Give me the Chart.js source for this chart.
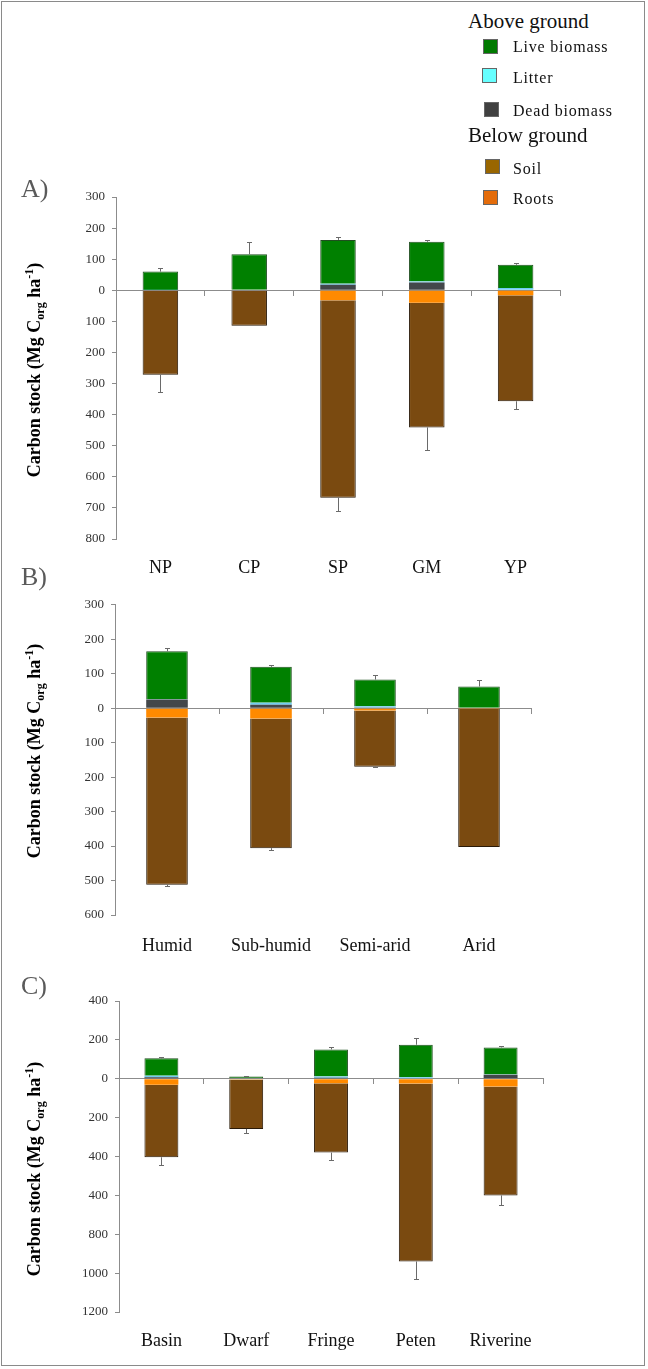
<!DOCTYPE html>
<html>
<head>
<meta charset="utf-8">
<script src="https://cdn.jsdelivr.net/npm/chart.js@4.4.1/dist/chart.umd.min.js"></script>
<style>
  body { margin: 0; background: #fff; }
  #fig { position: relative; width: 648px; height: 1369px; font-family: 'Liberation Serif', 'Times New Roman', serif; }
  #frame { position: absolute; left: 1px; top: 1px; width: 642px; height: 1363px; border: 1px solid #8a8a8a; }
  canvas { position: absolute; left: 0; }
  .plab { position: absolute; left: 21px; font-size: 26px; line-height: 26px; color: #5a5a5a; }
  .ytitle { position: absolute; font-weight: bold; font-size: 18px; white-space: nowrap; color: #000;
            transform: translate(-50%, -50%) rotate(-90deg); }
  .ytitle sub, .ytitle sup { font-size: 12px; }
  .hd { position: absolute; left: 468px; font-size: 21px; line-height: 21px; color: #111; }
  .lg { position: absolute; left: 513px; font-size: 16px; line-height: 16px; letter-spacing: 0.8px; color: #111; }
  .box { position: absolute; width: 13px; height: 13px; border: 1px solid #666; }
</style>
</head>
<body>
<div id="fig">
  <div id="frame"></div>

  <canvas id="chartA" width="648" height="410" style="top:180px"></canvas>
  <canvas id="chartB" width="648" height="380" style="top:590px"></canvas>
  <canvas id="chartC" width="648" height="380" style="top:985px"></canvas>

  <div class="hd" style="top:11px">Above ground</div>
  <div class="box" style="left:483px;top:39px;background:#007a00"></div>
  <div class="lg" style="top:39px">Live biomass</div>
  <div class="box" style="left:482px;top:68px;background:#66ffff"></div>
  <div class="lg" style="top:70px">Litter</div>
  <div class="box" style="left:484px;top:102px;background:#404040"></div>
  <div class="lg" style="top:103px">Dead biomass</div>
  <div class="hd" style="top:125px">Below ground</div>
  <div class="box" style="left:485px;top:159px;background:#996600"></div>
  <div class="lg" style="top:161px">Soil</div>
  <div class="box" style="left:483px;top:190px;background:#e46c0a"></div>
  <div class="lg" style="top:191px">Roots</div>

  <div class="plab" style="top:176px">A)</div>
  <div class="plab" style="top:564px">B)</div>
  <div class="plab" style="top:973px">C)</div>

  <div class="ytitle" style="left:35px;top:370px">Carbon stock (Mg C<sub>org</sub> ha<sup>-1</sup>)</div>
  <div class="ytitle" style="left:35px;top:751px">Carbon stock (Mg C<sub>org</sub> ha<sup>-1</sup>)</div>
  <div class="ytitle" style="left:35px;top:1169px">Carbon stock (Mg C<sub>org</sub> ha<sup>-1</sup>)</div>
</div>

<script>
  // A) by region
  const catsA = ['NP', 'CP', 'SP', 'GM', 'YP'];
  const deadA = [0, 0, 18, 25, 2];
  const litterA = [1, 0, 3, 3, 5];
  const liveA = [59, 116, 141, 128, 75];
  const rootsA = [0, 0, 32, 40, 16];
  const soilA = [272, 114, 635, 401, 341];
  const errUpA = [11, 40, 8, 6, 6];
  const errDownA = [54, 0, 44, 72, 25];
  const ticksA = ['300', '200', '100', '0', '100', '200', '300', '400', '500', '600', '700', '800'];

  // B) by climate
  const catsB = ['Humid', 'Sub-humid', 'Semi-arid', 'Arid'];
  const deadB = [25, 10, 2, 0];
  const litterB = [1, 6, 4, 1];
  const liveB = [139, 104, 77, 62];
  const rootsB = [27, 30, 7, 1];
  const soilB = [485, 376, 163, 402];
  const errUpB = [9, 4, 12, 19];
  const errDownB = [4, 4, 2, 0];
  const ticksB = ['300', '200', '100', '0', '100', '200', '300', '400', '500', '600'];

  // C) by ecotype
  const catsC = ['Basin', 'Dwarf', 'Fringe', 'Peten', 'Riverine'];
  const deadC = [8, 0, 5, 3, 20];
  const litterC = [8, 2, 7, 5, 2];
  const liveC = [89, 10, 139, 167, 139];
  const rootsC = [31, 4, 23, 24, 40];
  const soilC = [373, 254, 357, 916, 560];
  const errUpC = [8, 3, 10, 33, 9];
  const errDownC = [39, 20, 38, 91, 50];
  const ticksC = ['400', '200', '0', '200', '400', '400', '800', '1000', '1200'];

  const serif = "'Liberation Serif', 'Times New Roman', serif";
  const axisGray = '#8c8c8c';

  // whiskers on top of the above-ground stack and below the soil
  const errorBars = {
    id: 'errorBars',
    afterDatasetsDraw(chart, args, opts) {
      const ctx = chart.ctx;
      const xs = chart.scales.x, ys = chart.scales.y;
      ctx.save();
      ctx.strokeStyle = '#6a6a6a';
      ctx.lineWidth = 1;
      chart.data.labels.forEach((c, i) => {
        let pos = 0, neg = 0;
        chart.data.datasets.forEach(d => {
          const v = d.data[i];
          if (v > 0) pos += v; else neg += v;
        });
        const px = Math.round(xs.getPixelForValue(i)) + 0.5;
        [[pos, pos + opts.up[i]], [neg, neg - opts.down[i]]].forEach(([a, b]) => {
          if (a === b) return;
          const y1 = ys.getPixelForValue(a);
          const y2 = Math.round(ys.getPixelForValue(b)) + 0.5;
          ctx.beginPath();
          ctx.moveTo(px, y1);
          ctx.lineTo(px, y2);
          ctx.moveTo(px - 2.5, y2);
          ctx.lineTo(px + 2.5, y2);
          ctx.stroke();
        });
      });
      ctx.restore();
    }
  };

  function makePanel(id, cats, dead, litter, live, roots, soil, up, down, yMin, yMax, step, tickLabels, area) {
    const canvas = document.getElementById(id);
    const bar = (label, data, color, border, bw) => ({
      label: label, data: data, backgroundColor: color, borderColor: border, borderWidth: bw,
      barPercentage: 0.4, categoryPercentage: 1.0
    });
    return new Chart(canvas, {
      type: 'bar',
      data: {
        labels: cats,
        datasets: [
          bar('Dead biomass', dead, '#43474a', '#43474a', 0),
          bar('Litter', litter, '#70cdf0', '#70cdf0', 0),
          bar('Live biomass', live, '#008000', '#1f4f1f', 1),
          bar('Roots', roots.map(v => -v), '#ff8a00', '#ff8a00', 0),
          bar('Soil', soil.map(v => -v), '#7a4a10', '#2a1a08', 1)
        ]
      },
      options: {
        responsive: false,
        animation: false,
        devicePixelRatio: 1,
        layout: { padding: { left: 0, right: canvas.width - area.right, top: area.top, bottom: 0 } },
        plugins: {
          legend: { display: false },
          tooltip: { enabled: false },
          errorBars: { up: up, down: down }
        },
        scales: {
          x: {
            stacked: true,
            grid: { display: false, drawTicks: false },
            border: { display: false },
            ticks: { color: '#111', font: { family: serif, size: 18 }, padding: area.labelPad },
            afterFit: s => { s.height = canvas.height - area.bottom; }
          },
          x2: {
            type: 'category',
            position: { y: 0 },
            offset: true,
            grid: { offset: true, drawOnChartArea: false, tickLength: 5, color: axisGray },
            border: { color: axisGray },
            ticks: { display: false }
          },
          y: {
            stacked: true,
            min: yMin,
            max: yMax,
            ticks: {
              stepSize: step, color: '#333', padding: 7,
              font: { family: serif, size: 13 },
              callback: (v, i, t) => tickLabels[t.length - 1 - i]
            },
            grid: { drawOnChartArea: false, tickLength: 4, color: axisGray },
            border: { color: axisGray },
            afterFit: s => { s.width = area.left; }
          }
        }
      },
      plugins: [errorBars]
    });
  }

  makePanel('chartA', catsA, deadA, litterA, liveA, rootsA, soilA, errUpA, errDownA,
    -800, 300, 100, ticksA, { top: 17, bottom: 359, left: 116, right: 560, labelPad: 18 });
  makePanel('chartB', catsB, deadB, litterB, liveB, rootsB, soilB, errUpB, errDownB,
    -600, 300, 100, ticksB, { top: 13, bottom: 325, left: 115, right: 531, labelPad: 20 });
  makePanel('chartC', catsC, deadC, litterC, liveC, rootsC, soilC, errUpC, errDownC,
    -1200, 400, 200, ticksC, { top: 16, bottom: 327, left: 119, right: 543, labelPad: 18 });
</script>
</body>
</html>
